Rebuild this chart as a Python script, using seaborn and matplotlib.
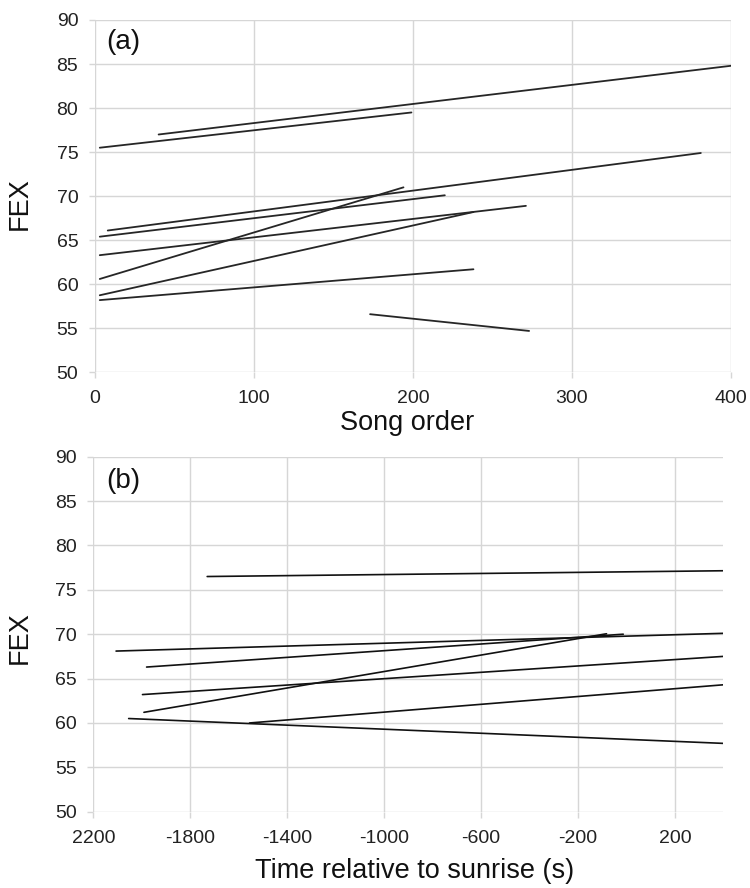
import numpy as np
import pandas as pd
import matplotlib
matplotlib.use("Agg")
import matplotlib.pyplot as plt
import seaborn as sns

# Panel (a): FEX vs song order, one fitted line per bird (start / end points)
a_x_start = [40, 3, 8, 3, 3, 3, 3, 3, 173]
a_x_end = [400, 199, 381, 220, 271, 194, 238, 238, 273]
a_y_start = [77.0, 75.5, 66.1, 65.4, 63.3, 60.6, 58.75, 58.2, 56.6]
a_y_end = [84.8, 79.5, 74.9, 70.1, 68.9, 71.0, 68.2, 61.7, 54.7]

# Panel (b): FEX vs time relative to sunrise
b_x_start = [-1730, -2106, -1980, -1997, -1991, -2054, -1555]
b_x_end = [400, 400, -13, 400, -82, 400, 400]
b_y_start = [76.5, 68.1, 66.3, 63.2, 61.2, 60.5, 60.0]
b_y_end = [77.15, 70.1, 70.0, 67.5, 70.05, 57.7, 64.3]

a_xticks = [0, 100, 200, 300, 400]
b_xticks = [-2200, -1800, -1400, -1000, -600, -200, 200]
b_xticklabels = ["2200", "-1800", "-1400", "-1000", "-600", "-200", "200"]
yticks = [50, 55, 60, 65, 70, 75, 80, 85, 90]


def to_long(xs, xe, ys, ye):
    rows = []
    for i in range(len(xs)):
        rows.append({"seg": i, "x": xs[i], "y": ys[i]})
        rows.append({"seg": i, "x": xe[i], "y": ye[i]})
    return pd.DataFrame(rows)


df_a = to_long(a_x_start, a_x_end, a_y_start, a_y_end)
df_b = to_long(b_x_start, b_x_end, b_y_start, b_y_end)

sns.set_theme(style="white")
plt.rcParams["font.family"] = ["Liberation Sans", "DejaVu Sans"]

fig = plt.figure(figsize=(7.5, 8.88), dpi=100)
ax_a = fig.add_axes([0.1267, 0.5807, 0.848, 0.3968])
ax_b = fig.add_axes([0.1244, 0.0859, 0.84, 0.3998])

grid_col = "#d6d6d6"


def style_axes(ax):
    for s in ax.spines.values():
        s.set_visible(False)
    ax.grid(True, color=grid_col, linewidth=1.0)
    ax.set_axisbelow(True)
    ax.set_yticks(yticks)
    ax.set_ylim(50, 90)
    ax.tick_params(axis="both", which="major", length=4, width=1.0,
                   color=grid_col, labelsize=14, labelcolor="#222222")
    ax.tick_params(axis="y", pad=8, left=True)
    ax.tick_params(axis="x", pad=9, bottom=True)


sns.lineplot(data=df_a, x="x", y="y", units="seg", estimator=None,
             color="#262626", linewidth=1.3, ax=ax_a)
style_axes(ax_a)
ax_a.set_xlim(0, 400)
ax_a.set_xticks(a_xticks)
ax_a.set_xlabel("Song order", fontsize=19.5, color="#111111")
ax_a.set_ylabel("FEX", fontsize=19.5, color="#111111")
ax_a.xaxis.set_label_coords(0.49, -0.108)
ax_a.yaxis.set_label_coords(-0.098, 0.48)
ax_a.text(0.018, 0.975, "(a)", transform=ax_a.transAxes, fontsize=20,
          va="top", ha="left", color="#111111")

sns.lineplot(data=df_b, x="x", y="y", units="seg", estimator=None,
             color="#111111", linewidth=1.2, ax=ax_b)
style_axes(ax_b)
ax_b.set_xlim(-2200, 400)
ax_b.set_xticks(b_xticks)
ax_b.set_xticklabels(b_xticklabels)
ax_b.set_xlabel("Time relative to sunrise (s)", fontsize=19.5, color="#111111")
ax_b.set_ylabel("FEX", fontsize=19.5, color="#111111")
ax_b.xaxis.set_label_coords(0.51, -0.13)
ax_b.yaxis.set_label_coords(-0.096, 0.49)
ax_b.text(0.021, 0.967, "(b)", transform=ax_b.transAxes, fontsize=20,
          va="top", ha="left", color="#111111")

fig.savefig("out.png", dpi=100)
